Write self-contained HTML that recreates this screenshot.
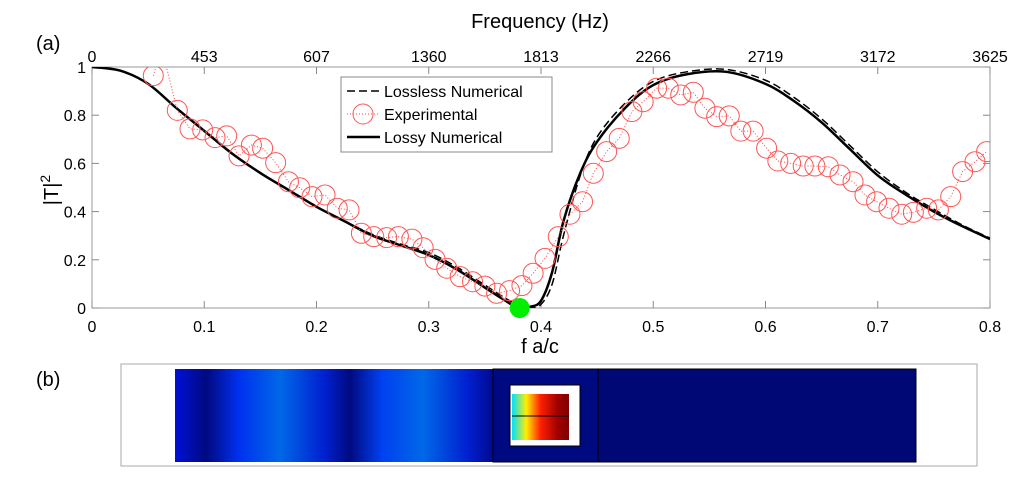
<!DOCTYPE html>
<html><head><meta charset="utf-8"><style>
body{margin:0;background:#fff;width:1024px;height:479px;overflow:hidden;font-family:"Liberation Sans",sans-serif}
svg text{font-family:"Liberation Sans",sans-serif}
</style></head><body>
<svg id="chart" width="1024" height="479">
<defs>
<clipPath id="plotclip"><rect x="92" y="67" width="898" height="241"/></clipPath>
<linearGradient id="fieldgrad" x1="175" x2="493" gradientUnits="userSpaceOnUse">
<stop offset="0" stop-color="#0010d8"/><stop offset="0.1" stop-color="#000a80"/><stop offset="0.2" stop-color="#0030f0"/><stop offset="0.33" stop-color="#0068e8"/><stop offset="0.47" stop-color="#0020d0"/><stop offset="0.55" stop-color="#000a80"/><stop offset="0.65" stop-color="#0040f0"/><stop offset="0.78" stop-color="#0068e8"/><stop offset="0.92" stop-color="#0020d0"/><stop offset="1" stop-color="#000a90"/></linearGradient>
<linearGradient id="resgrad" x1="0" x2="1"><stop offset="0" stop-color="#00e0ff"/><stop offset="0.25" stop-color="#ffee00"/><stop offset="0.5" stop-color="#ff2000"/><stop offset="0.8" stop-color="#a00000"/><stop offset="1" stop-color="#800000"/></linearGradient>
</defs>
<rect x="92" y="67" width="898" height="241" fill="#fff" stroke="#999"/>
<g id="axes"></g>
<g id="series" clip-path="url(#plotclip)"></g>
<circle id="mindot" r="10" fill="#00ee00"/>
<text x="540" y="28" font-size="20" text-anchor="middle">Frequency (Hz)</text>
<text x="540" y="353" font-size="20" text-anchor="middle">f a/c</text>
<text transform="translate(58,190) rotate(-90)" font-size="20" text-anchor="middle">|T|<tspan dy="-8" font-size="14">2</tspan></text>
<text x="36" y="50" font-size="20">(a)</text>
<text x="36" y="386" font-size="20">(b)</text>
<g>
<rect x="341" y="77" width="211" height="75" fill="#fff" stroke="#888"/>
<line x1="347" x2="380" y1="91" y2="91" stroke="#000" stroke-width="1.5" stroke-dasharray="8,4"/>
<text x="384" y="97" font-size="16">Lossless Numerical</text>
<line x1="347" x2="380" y1="114" y2="114" stroke="#f44" stroke-dasharray="1,2"/>
<circle cx="363" cy="114" r="10" fill="none" stroke="#f55"/>
<text x="384" y="120" font-size="16">Experimental</text>
<line x1="347" x2="380" y1="137" y2="137" stroke="#000" stroke-width="2.5"/>
<text x="384" y="143" font-size="16">Lossy Numerical</text>
</g>
<g>
<rect x="121" y="364" width="856" height="102" fill="#fff" stroke="#aaa"/>
<rect x="175" y="369" width="318" height="93" fill="url(#fieldgrad)"/>
<rect x="493" y="369" width="105" height="93" fill="#000a80" stroke="#000"/>
<rect x="598" y="369" width="318" height="93" fill="#000875" stroke="#000"/>
<rect x="510" y="385" width="70" height="61" fill="#fff" stroke="#000"/>
<rect x="512" y="394" width="57" height="46" fill="url(#resgrad)"/>
<line x1="512" x2="569" y1="416" y2="416" stroke="#000"/>
</g>
</svg>
<script>
const xTicks=[0,0.1,0.2,0.3,0.4,0.5,0.6,0.7,0.8];
const yTicks=[0,0.2,0.4,0.6,0.8,1];
const topLabels=["0","453","607","1360","1813","2266","2719","3172","3625"];
const curveF=[0,0.025,0.05,0.075,0.1,0.125,0.15,0.175,0.2,0.225,0.25,0.275,0.3,0.325,0.35,0.365,0.38,0.39,0.4,0.41,0.42,0.435,0.45,0.475,0.5,0.53,0.565,0.6,0.625,0.65,0.675,0.7,0.725,0.75,0.775,0.8];
const lossy=[1,0.985,0.93,0.83,0.735,0.64,0.56,0.49,0.42,0.36,0.30,0.26,0.22,0.16,0.085,0.04,0.0,0.005,0.03,0.15,0.36,0.56,0.69,0.83,0.925,0.97,0.98,0.93,0.86,0.77,0.66,0.55,0.47,0.40,0.34,0.286];
const lossless=[1,0.985,0.93,0.83,0.735,0.64,0.56,0.49,0.42,0.36,0.305,0.265,0.23,0.17,0.095,0.05,0.01,0.0,0.015,0.1,0.3,0.55,0.71,0.85,0.94,0.98,0.99,0.945,0.875,0.785,0.675,0.565,0.48,0.41,0.345,0.29];
const expF=[0.0546,0.062,0.076,0.0873,0.0986,0.1096,0.12,0.131,0.142,0.152,0.1636,0.175,0.185,0.196,0.2076,0.2185,0.229,0.240,0.251,0.2625,0.273,0.285,0.295,0.3056,0.316,0.328,0.339,0.350,0.3605,0.372,0.383,0.393,0.4036,0.4154,0.4258,0.437,0.4466,0.4585,0.4697,0.481,0.491,0.503,0.5134,0.5245,0.5357,0.546,0.5565,0.5677,0.578,0.589,0.601,0.611,0.6224,0.6336,0.644,0.656,0.6664,0.678,0.6886,0.699,0.710,0.7213,0.7317,0.7436,0.754,0.765,0.7756,0.7866,0.797];
const expT=[0.964,1.08,0.82,0.743,0.739,0.707,0.714,0.631,0.676,0.663,0.603,0.524,0.499,0.462,0.469,0.414,0.407,0.31,0.296,0.292,0.296,0.286,0.25,0.202,0.165,0.13,0.109,0.091,0.061,0.072,0.093,0.144,0.206,0.296,0.389,0.441,0.559,0.649,0.704,0.815,0.856,0.912,0.912,0.884,0.895,0.829,0.794,0.797,0.734,0.734,0.663,0.61,0.600,0.589,0.589,0.586,0.552,0.524,0.469,0.441,0.414,0.389,0.397,0.414,0.407,0.462,0.566,0.607,0.649];
const minF=0.381, minT=0;
const X=f=>92+f/0.8*898, Y=t=>308-t*241;
const NS="http://www.w3.org/2000/svg";
const axes=document.getElementById('axes'), ser=document.getElementById('series');
function mk(tag,attrs,parent){const e=document.createElementNS(NS,tag);for(const k in attrs)e.setAttribute(k,attrs[k]);parent.appendChild(e);return e;}
xTicks.forEach((v,i)=>{
 const x=X(v);
 const t1=mk('line',{x1:x,x2:x,y1:308,y2:301,stroke:'#888'},axes);
 
 
 const t2=mk('line',{x1:x,x2:x,y1:67,y2:74,stroke:'#888'},axes);
 
 
 const lb=mk('text',{x:x,y:332,'font-size':16,'text-anchor':'middle'},axes);lb.textContent=String(v);
 
 
 const tl=mk('text',{x:x,y:62,'font-size':16,'text-anchor':'middle'},axes);tl.textContent=topLabels[i];
 
 
});
yTicks.forEach(v=>{
 const y=Y(v);
 const t=mk('line',{x1:92,x2:99,y1:y,y2:y,stroke:'#888'},axes);
 
 
 const t2=mk('line',{x1:990,x2:983,y1:y,y2:y,stroke:'#888'},axes);
 
 
 const lb=mk('text',{x:86,y:y+6,'font-size':16,'text-anchor':'end'},axes);lb.textContent=String(v);
 
 
});
function smooth(fs,ts){
 const p=fs.map((f,i)=>[X(f),Y(ts[i])]);let d='M'+p[0][0]+','+p[0][1];
 for(let i=0;i<p.length-1;i++){const a=p[Math.max(i-1,0)],b=p[i],c=p[i+1],e=p[Math.min(i+2,p.length-1)];
 d+=` C${b[0]+(c[0]-a[0])/6},${b[1]+(c[1]-a[1])/6} ${c[0]-(e[0]-b[0])/6},${c[1]-(e[1]-b[1])/6} ${c[0]},${c[1]}`;}
 return d;}
const ll=mk('path',{d:smooth(curveF,lossless),fill:'none',stroke:'#000','stroke-width':1.5,'stroke-dasharray':'8,4'},ser);


const ls=mk('path',{d:smooth(curveF,lossy),fill:'none',stroke:'#000','stroke-width':2.5},ser);


const ep=mk('polyline',{points:expF.map((f,i)=>X(f)+','+Y(expT[i])).join(' '),fill:'none',stroke:'#f44','stroke-dasharray':'1,2'},ser);


expF.forEach((f,i)=>{
 const c=mk('circle',{cx:X(f),cy:Y(expT[i]),r:10,fill:'none',stroke:'#f55'},ser);
 
 
});
const md=document.getElementById('mindot');md.setAttribute('cx',X(minF));md.setAttribute('cy',Y(minT));
</script>
</body></html>
